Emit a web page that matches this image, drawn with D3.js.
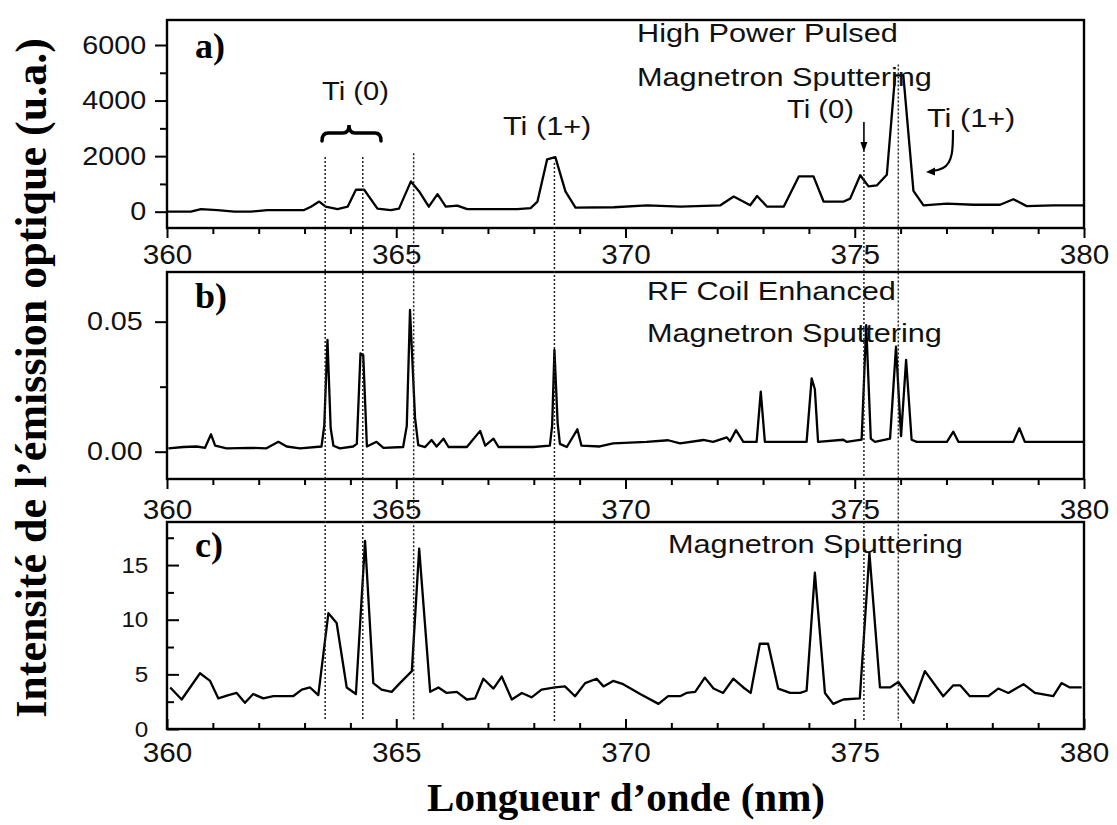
<!DOCTYPE html>
<html><head><meta charset="utf-8">
<script src="https://cdn.jsdelivr.net/npm/d3@7"></script>
<style>
html,body{margin:0;padding:0;background:#fff;}
svg{display:block;}
</style></head><body>
<svg id="chart" width="1117" height="825"></svg>
<script>
// ---------------- DATA ----------------
const xTickLabels = [360, 365, 370, 375, 380];
const xMinorTicks = [361,362,363,364,366,367,368,369,371,372,373,374,376,377,378,379];
const yTicksA = [0, 2000, 4000, 6000];
const yMinorA = [1000, 3000, 5000];
const yTicksB = [0.00, 0.05];
const yMinorB = [0.025];
const yTicksC = [0, 5, 10, 15];
const yMinorC = [2.5, 7.5, 12.5, 17.5];

// a) High Power Pulsed Magnetron Sputtering
const wavelengthA = [360.0,360.52,360.74,361.10,361.47,361.83,362.19,362.56,362.99,363.14,363.32,363.46,363.72,363.94,364.12,364.30,364.59,364.88,365.06,365.32,365.50,365.71,365.90,366.08,366.33,366.55,367.28,367.64,367.93,368.08,368.29,368.47,368.69,368.91,369.75,370.47,371.20,372.07,372.36,372.72,372.87,373.09,373.45,373.78,374.10,374.32,374.76,374.90,375.12,375.30,375.48,375.70,375.88,376.06,376.28,376.50,377.01,377.59,378.17,378.46,378.75,379.33,380.0];
const intensityA  = [0,0,90,60,0,0,60,60,60,180,365,180,90,180,790,790,110,60,110,1090,730,180,630,180,220,90,90,90,130,365,1880,1965,730,145,160,230,180,230,545,230,565,180,180,1270,1270,365,365,470,1310,910,945,1330,4910,4910,750,230,290,250,250,450,200,230,230];

// b) RF Coil Enhanced Magnetron Sputtering
const wavelengthB = [360.03,360.36,360.65,360.83,360.96,361.05,361.30,361.81,362.17,362.43,362.61,362.90,363.37,363.43,363.50,363.57,363.63,363.77,364.06,364.14,364.22,364.28,364.36,364.57,364.72,365.15,365.23,365.30,365.41,365.48,365.63,365.77,365.88,366.03,366.14,366.54,366.83,366.94,367.12,367.23,367.99,368.35,368.40,368.45,368.52,368.57,368.72,368.95,369.04,369.44,369.73,370.46,370.93,371.19,371.70,371.91,372.21,372.28,372.41,372.57,372.86,372.95,373.04,373.95,374.06,374.13,374.20,374.75,374.82,375.15,375.25,375.35,375.44,375.77,375.90,376.01,376.12,376.24,376.35,377.01,377.15,377.26,378.46,378.59,378.71,379.98];
const intensityB  = [0.0013,0.0018,0.0020,0.0015,0.0067,0.0023,0.0013,0.0015,0.0013,0.0038,0.0020,0.0013,0.0020,0.0100,0.0430,0.0090,0.0023,0.0013,0.0020,0.0030,0.0378,0.0372,0.0020,0.0038,0.0015,0.0018,0.0100,0.0545,0.0130,0.0025,0.0018,0.0045,0.0020,0.0050,0.0018,0.0018,0.0080,0.0023,0.0050,0.0018,0.0018,0.0023,0.0100,0.0391,0.0110,0.0030,0.0018,0.0086,0.0023,0.0020,0.0032,0.0038,0.0044,0.0032,0.0045,0.0038,0.0055,0.0040,0.0083,0.0038,0.0038,0.0231,0.0038,0.0038,0.0282,0.0240,0.0038,0.0046,0.0038,0.0046,0.0487,0.0050,0.0038,0.0050,0.0404,0.0060,0.0353,0.0046,0.0038,0.0038,0.0077,0.0038,0.0038,0.0090,0.0038,0.0038];

// c) Magnetron Sputtering
const wavelengthC = [360.07,360.32,360.72,360.94,361.12,361.34,361.52,361.70,361.88,362.10,362.32,362.54,362.75,362.94,363.12,363.30,363.52,363.70,363.92,364.12,364.32,364.50,364.68,364.90,365.08,365.34,365.50,365.74,365.92,366.10,366.32,366.54,366.72,366.90,367.12,367.30,367.52,367.74,367.95,368.17,368.46,368.68,368.90,369.12,369.37,369.52,369.73,369.95,370.32,370.72,370.93,371.19,371.33,371.52,371.73,371.92,372.13,372.35,372.57,372.73,372.93,373.11,373.33,373.59,373.81,373.95,374.13,374.35,374.53,374.75,375.11,375.32,375.55,375.77,375.95,376.28,376.53,376.93,377.15,377.30,377.51,377.91,378.13,378.35,378.68,378.93,379.33,379.51,379.69,379.95];
const intensityC  = [3.8,2.7,5.1,4.4,2.8,3.1,3.3,2.4,3.2,2.8,3.0,3.0,3.0,3.6,3.8,3.1,10.6,9.7,3.8,3.2,17.2,4.2,3.6,3.4,4.2,5.3,16.5,3.4,3.8,3.3,3.4,2.7,2.8,4.6,3.7,4.8,2.7,3.3,2.9,3.6,3.8,3.9,3.0,4.2,4.6,3.9,4.4,4.1,3.2,2.3,3.0,3.0,3.3,3.4,4.7,3.7,3.3,4.6,3.8,3.3,7.8,7.8,3.7,3.3,3.3,3.5,14.3,3.3,2.3,2.7,2.8,16.1,3.8,3.8,4.3,2.4,5.3,3.0,4.0,4.0,3.0,3.0,3.7,3.3,4.1,3.3,3.0,4.2,3.8,3.8];

// reference (dotted) lines and where they start in panel a (intensity units)
const refLines   = [363.45, 364.27, 365.38, 368.45, 375.2, 375.95];
const refLineTop = [1970, 1970, 2100, 1750, 2220, 5300];

// ---------------- DRAW ----------------
const svg = d3.select('#chart');
const SANS = "'Liberation Sans', Arial, Helvetica, sans-serif";
const SERIF = "'Liberation Serif', 'Times New Roman', serif";
const x = d3.scaleLinear().domain([360, 380]).range([167, 1084]);

const panels = [
  {top: 20,  bottom: 228, domain: [-587, 6900],      wl: wavelengthA, val: intensityA, yt: yTicksA, ym: yMinorA, inward: false, fmt: d3.format('d'),   xPad: 7,  yPad: 6,  yFont: 25, ySx: 1.15},
  {top: 272, bottom: 479, domain: [-0.0105, 0.0691], wl: wavelengthB, val: intensityB, yt: yTicksB, ym: yMinorB, inward: false, fmt: d3.format('.2f'), xPad: 11, yPad: 9,  yFont: 25, ySx: 1.15},
  {top: 522, bottom: 729, domain: [0, 18.94],        wl: wavelengthC, val: intensityC, yt: yTicksC, ym: yMinorC, inward: true,  fmt: d3.format('d'),   xPad: 14, yPad: 17, yFont: 22, ySx: 1.1}
];
panels.forEach(p => { p.y = d3.scaleLinear().domain(p.domain).range([p.bottom, p.top]); });

function styleAxis(g, size, sx) {
  g.attr('font-size', null).attr('font-family', null);
  g.select('.domain').remove();
  g.selectAll('.tick line').attr('stroke', '#000').attr('stroke-width', 2);
  g.selectAll('.tick text').attr('font-family', SANS).attr('font-size', size)
    .attr('fill', '#111').attr('transform', `scale(${sx},1)`);
}

panels.forEach(p => {
  const d = p.inward ? -1 : 1;
  // trace
  svg.append('path')
    .datum(p.wl.map((w, i) => [w, p.val[i]]))
    .attr('fill', 'none').attr('stroke', '#000').attr('stroke-width', 2.3)
    .attr('stroke-linejoin', 'round')
    .attr('d', d3.line().x(v => x(v[0])).y(v => p.y(v[1])));
  // frame
  svg.append('rect')
    .attr('x', x.range()[0]).attr('y', p.top)
    .attr('width', x.range()[1] - x.range()[0]).attr('height', p.bottom - p.top)
    .attr('fill', 'none').attr('stroke', '#000').attr('stroke-width', 2.4);
  // x axis major + minor
  const gx = svg.append('g').attr('transform', `translate(0,${p.bottom})`)
    .call(d3.axisBottom(x).tickValues(xTickLabels).tickSizeInner(d * 10).tickSizeOuter(0)
      .tickPadding(p.xPad).tickFormat(d3.format('d')));
  styleAxis(gx, 27, 1.1);
  const gxm = svg.append('g').attr('transform', `translate(0,${p.bottom})`)
    .call(d3.axisBottom(x).tickValues(xMinorTicks).tickSizeInner(d * 6).tickSizeOuter(0).tickFormat(''));
  styleAxis(gxm, 27, 1);
  // y axis major + minor
  const gy = svg.append('g').attr('transform', `translate(${x.range()[0]},0)`)
    .call(d3.axisLeft(p.y).tickValues(p.yt).tickSizeInner(d * 12).tickSizeOuter(0)
      .tickPadding(p.yPad).tickFormat(p.fmt));
  styleAxis(gy, p.yFont, p.ySx);
  const gym = svg.append('g').attr('transform', `translate(${x.range()[0]},0)`)
    .call(d3.axisLeft(p.y).tickValues(p.ym).tickSizeInner(d * 7).tickSizeOuter(0).tickFormat(''));
  styleAxis(gym, 20, 1);
});

// dotted reference lines
const yA = panels[0].y;
refLines.forEach((w, i) => {
  svg.append('line')
    .attr('x1', x(w)).attr('x2', x(w))
    .attr('y1', yA(refLineTop[i])).attr('y2', 721)
    .attr('stroke', '#222').attr('stroke-width', 1.5).attr('stroke-dasharray', '2,2');
});

// annotations
function sans(txt, px, py, size, sx) {
  svg.append('text').attr('transform', `translate(${px},${py}) scale(${sx},1)`)
    .attr('font-family', SANS).attr('font-size', size).attr('fill', '#111').text(txt);
}
sans('High Power Pulsed', 637, 42, 26, 1.18);
sans('Magnetron Sputtering', 637, 86, 26, 1.18);
sans('Ti (0)', 322, 100, 26, 1.12);
sans('Ti (1+)', 503, 135, 26, 1.18);
sans('Ti (0)', 787, 118, 26, 1.12);
sans('Ti (1+)', 927, 127, 26, 1.18);
sans('RF Coil Enhanced', 647, 300, 26, 1.18);
sans('Magnetron Sputtering', 647, 342, 26, 1.18);
sans('Magnetron Sputtering', 668, 553, 26, 1.18);

// brace over Ti (0)
(function(){
  const x1 = 322, x2 = 381, xm = 349, y0 = 141, y1 = 133, yt = 125, q = 6;
  svg.append('path')
    .attr('d', `M${x1},${y0} Q${x1},${y1} ${x1+q},${y1} L${xm-q},${y1} Q${xm},${y1} ${xm},${yt} Q${xm},${y1} ${xm+q},${y1} L${x2-q},${y1} Q${x2},${y1} ${x2},${y0}`)
    .attr('fill', 'none').attr('stroke', '#000').attr('stroke-width', 3.5).attr('stroke-linecap', 'round');
})();
// straight arrow Ti (0) at 375.2
svg.append('line').attr('x1', x(375.2)).attr('x2', x(375.2)).attr('y1', 122).attr('y2', 146)
  .attr('stroke', '#000').attr('stroke-width', 1.6);
svg.append('path').attr('d', `M${x(375.2)-3.5},${142} L${x(375.2)},${152} L${x(375.2)+3.5},${142} Z`).attr('fill', '#000');
// curved arrow Ti (1+)
svg.append('path').attr('d', 'M953,130 C953,148 953,163 943,168 C939,170 936,171 932,171')
  .attr('fill', 'none').attr('stroke', '#000').attr('stroke-width', 2.2);
svg.append('path').attr('d', 'M926,172 L935,167.5 L935,175.5 Z').attr('fill', '#000');

// panel letters
[['a)', 58], ['b)', 308], ['c)', 557]].forEach(([t, yy]) => {
  svg.append('text').attr('x', 195).attr('y', yy).attr('font-family', SERIF)
    .attr('font-weight', 'bold').attr('font-size', 36).attr('fill', '#000').text(t);
});

// axis titles
svg.append('text').attr('x', 626).attr('y', 811).attr('text-anchor', 'middle')
  .attr('font-family', SERIF).attr('font-weight', 'bold').attr('font-size', 41)
  .text('Longueur d’onde (nm)');
svg.append('text').attr('transform', 'translate(46,378) rotate(-90)').attr('text-anchor', 'middle')
  .attr('font-family', SERIF).attr('font-weight', 'bold').attr('font-size', 44)
  .text('Intensité de l’émission optique (u.a.)');
</script>
</body></html>
